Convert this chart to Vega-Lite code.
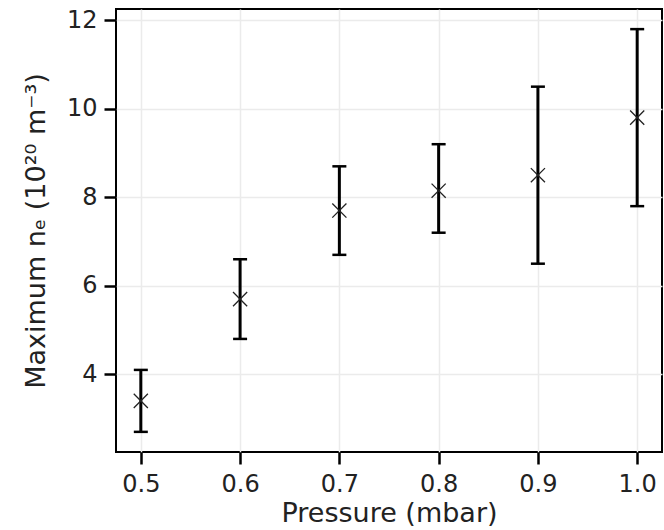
{
  "$schema": "https://vega.github.io/schema/vega-lite/v6.json",
  "width": 546,
  "height": 443,
  "autosize": {"type": "none"},
  "padding": {"left": 116, "top": 9, "right": 2, "bottom": 78},
  "background": "white",
  "config": {
    "view": {"stroke": "black", "strokeWidth": 2},
    "axis": {
      "labelFont": "DejaVu Sans",
      "titleFont": "DejaVu Sans",
      "labelFontSize": 24,
      "titleFontSize": 27,
      "titleFontWeight": "normal",
      "labelColor": "#222222",
      "titleColor": "#222222",
      "domain": false,
      "tickColor": "black",
      "tickWidth": 2.5,
      "tickSize": 12,
      "gridColor": "#ebebeb",
      "gridWidth": 1.5
    }
  },
  "data": {
    "values": [
      {"p": 0.5, "ne": 3.4, "lo": 2.7, "hi": 4.1},
      {"p": 0.6, "ne": 5.7, "lo": 4.8, "hi": 6.6},
      {"p": 0.7, "ne": 7.7, "lo": 6.7, "hi": 8.7},
      {"p": 0.8, "ne": 8.15, "lo": 7.2, "hi": 9.2},
      {"p": 0.9, "ne": 8.5, "lo": 6.5, "hi": 10.5},
      {"p": 1.0, "ne": 9.8, "lo": 7.8, "hi": 11.8}
    ]
  },
  "encoding": {
    "x": {
      "field": "p",
      "type": "quantitative",
      "scale": {"domain": [0.475, 1.025], "nice": false, "zero": false},
      "axis": {"values": [0.5, 0.6, 0.7, 0.8, 0.9, 1.0], "format": ".1f", "title": "Pressure (mbar)", "labelPadding": 8, "titlePadding": 4}
    }
  },
  "layer": [
    {
      "mark": {"type": "rule", "color": "black", "strokeWidth": 3},
      "encoding": {
        "y": {
          "field": "lo",
          "type": "quantitative",
          "scale": {"domain": [2.245, 12.255], "nice": false, "zero": false},
          "axis": {"values": [4, 6, 8, 10, 12], "title": "Maximum nₑ (10²⁰ m⁻³)", "labelPadding": 7, "titlePadding": 16}
        },
        "y2": {"field": "hi"}
      }
    },
    {
      "mark": {"type": "tick", "orient": "horizontal", "color": "black", "size": 14, "thickness": 2.5, "opacity": 1},
      "encoding": {"y": {"field": "lo", "type": "quantitative"}}
    },
    {
      "mark": {"type": "tick", "orient": "horizontal", "color": "black", "size": 14, "thickness": 2.5, "opacity": 1},
      "encoding": {"y": {"field": "hi", "type": "quantitative"}}
    },
    {
      "mark": {"type": "point", "shape": "M-1,-1L1,1M-1,1L1,-1", "filled": false, "stroke": "#222222", "strokeWidth": 1.3, "size": 200, "opacity": 1},
      "encoding": {"y": {"field": "ne", "type": "quantitative"}}
    }
  ]
}
